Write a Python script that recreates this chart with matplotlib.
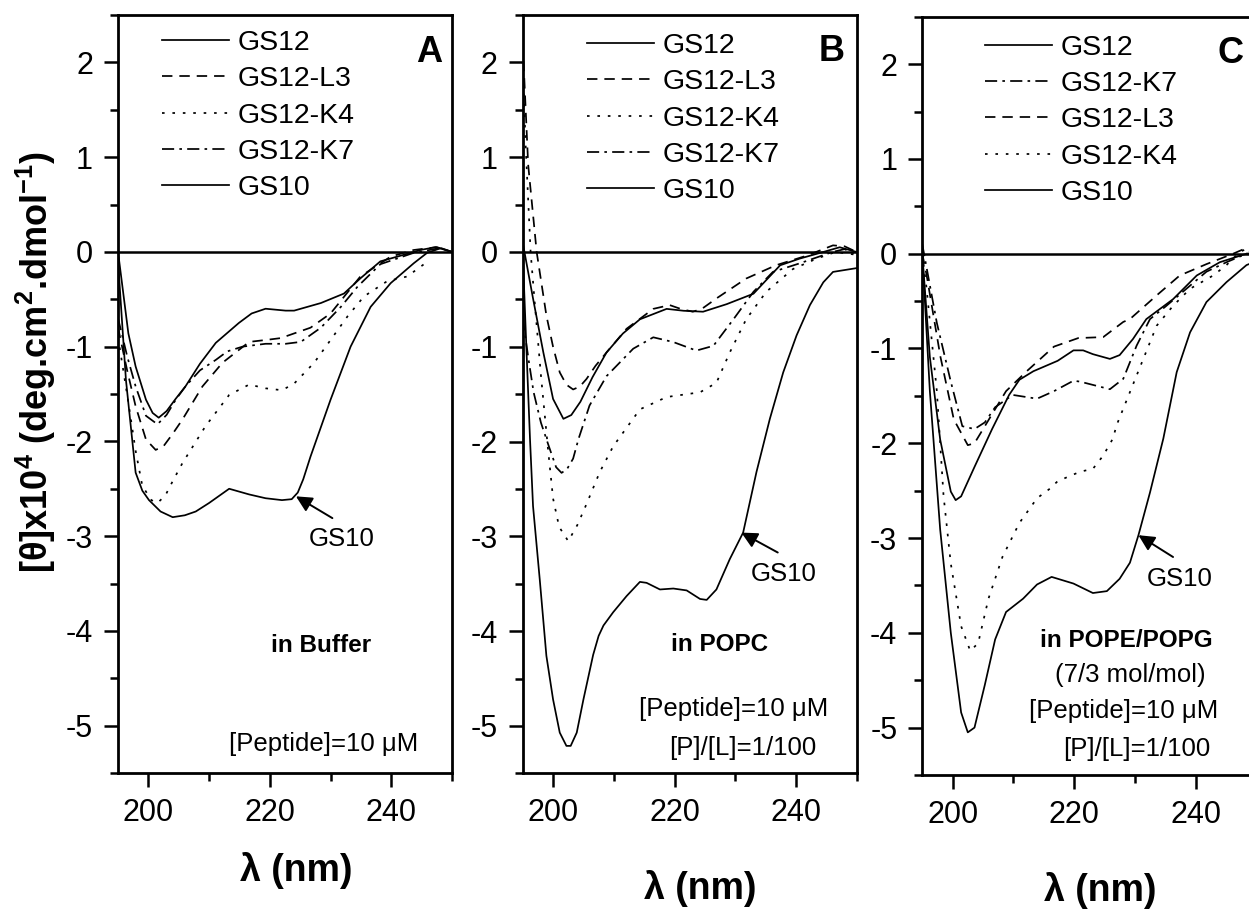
import matplotlib
matplotlib.use("Agg")
import matplotlib.pyplot as plt
from matplotlib.ticker import MultipleLocator

plt.rcParams['font.family'] = ['Liberation Sans', 'DejaVu Sans']
plt.rcParams['axes.unicode_minus'] = False
plt.rcParams['mathtext.fontset'] = 'custom'
plt.rcParams['mathtext.rm'] = 'Liberation Sans'
plt.rcParams['mathtext.bf'] = 'Liberation Sans:bold'
plt.rcParams['mathtext.default'] = 'bf'

# ---- panel A : in buffer ----
a_gs12_x = [195, 196.7, 197.9, 199.6, 200.7, 201.7, 203, 204.5, 206.1, 208.5, 211.1, 214.9, 217, 219.3, 222.6, 224, 228.4, 232.2, 234.9, 238.2, 241, 244.8, 247.3, 250]
a_gs12_y = [0.0, -0.86, -1.21, -1.56, -1.7, -1.75, -1.68, -1.55, -1.42, -1.18, -0.96, -0.75, -0.65, -0.60, -0.62, -0.62, -0.54, -0.44, -0.28, -0.10, -0.05, 0.02, 0.05, 0.0]
a_l3_x = [195, 196.5, 197.9, 199.6, 201.2, 202.5, 204, 205.6, 208.9, 212.2, 216.6, 219.3, 221.8, 226.7, 230, 234.9, 239.9, 243.7, 247.5, 250]
a_l3_y = [-0.8, -1.25, -1.63, -1.98, -2.09, -2.05, -1.92, -1.77, -1.42, -1.17, -0.95, -0.93, -0.91, -0.80, -0.65, -0.26, -0.05, 0.02, 0.05, 0.0]
a_k4_x = [195, 196.8, 197.9, 199, 200.5, 201.5, 202.8, 204, 205.6, 209.4, 213.3, 216.6, 219.3, 222, 224, 227.3, 230, 232.8, 235.5, 239.3, 242.6, 245.6]
a_k4_y = [-0.9, -1.63, -2.1, -2.47, -2.62, -2.65, -2.57, -2.42, -2.23, -1.84, -1.51, -1.40, -1.44, -1.46, -1.39, -1.17, -0.93, -0.68, -0.47, -0.31, -0.26, -0.12]
a_k7_x = [195, 196.5, 197.9, 199.6, 201.5, 203, 204.5, 206.1, 208.5, 211.1, 213, 215.5, 219.3, 222.6, 225.1, 228.4, 231.7, 234.4, 238.2, 243.7, 248, 250]
a_k7_y = [-0.7, -1.1, -1.42, -1.73, -1.82, -1.72, -1.56, -1.42, -1.25, -1.14, -1.05, -1.0, -0.97, -0.97, -0.95, -0.80, -0.58, -0.37, -0.13, -0.01, 0.04, 0.0]
a_gs10_x = [195, 196.3, 197.9, 199, 200.1, 202, 204, 206, 207.8, 210, 213.3, 216.6, 219.3, 222, 223.6, 224.6, 225.5, 226.7, 230, 233.3, 236.6, 239.9, 243.7, 245.9, 248.2, 250]
a_gs10_y = [-0.1, -1.35, -2.33, -2.52, -2.62, -2.74, -2.8, -2.78, -2.74, -2.65, -2.50, -2.56, -2.60, -2.62, -2.61, -2.54, -2.40, -2.16, -1.56, -1.0, -0.58, -0.33, -0.12, -0.01, 0.04, 0.0]

# ---- panel B : in POPC ----
b_gs12_x = [195, 196.7, 198.4, 200, 201.7, 203, 204.5, 206.5, 208.8, 211.5, 214.3, 218.7, 221.5, 224.7, 228.6, 233, 237.4, 240.6, 244.5, 247.2, 250]
b_gs12_y = [0.1, -0.49, -1.06, -1.55, -1.76, -1.72, -1.58, -1.32, -1.06, -0.86, -0.71, -0.60, -0.62, -0.63, -0.55, -0.44, -0.14, -0.07, 0.0, 0.05, 0.0]
b_l3_x = [195, 195.9, 197.3, 198.9, 200, 201.1, 202.2, 203.3, 204.4, 205.5, 207, 208.8, 212.1, 216.5, 219.2, 221, 223, 224.5, 226.9, 231.8, 236.7, 241.7, 246.1, 248, 250]
b_l3_y = [2.2, 0.92, 0.0, -0.67, -1.0, -1.27, -1.4, -1.45, -1.42, -1.34, -1.2, -1.06, -0.81, -0.60, -0.56, -0.6, -0.63, -0.6, -0.49, -0.28, -0.14, -0.04, 0.07, 0.06, 0.0]
b_k4_x = [195, 195.5, 196.3, 197, 198, 199.2, 200, 201, 202.5, 204, 205.5, 207.7, 209.9, 214.3, 218.7, 224.2, 226.9, 229.1, 231.8, 235.1, 239.5, 243.4, 246.5, 250]
b_k4_y = [2.0, 1.1, 0.0, -0.55, -1.3, -2.1, -2.6, -2.9, -3.05, -2.88, -2.66, -2.32, -2.05, -1.66, -1.53, -1.48, -1.38, -1.06, -0.71, -0.42, -0.18, -0.07, 0.0, -0.03]
b_k7_x = [195, 196, 196.8, 198, 199.2, 200.5, 201.4, 202.3, 203.3, 204.2, 206, 208.8, 213.2, 216.5, 219.8, 223.6, 226.4, 229.7, 233, 236.2, 240.6, 246, 248, 250]
b_k7_y = [-0.7, -1.15, -1.48, -1.8, -2.03, -2.27, -2.33, -2.29, -2.18, -1.97, -1.62, -1.31, -1.02, -0.90, -0.95, -1.04, -0.99, -0.71, -0.42, -0.21, -0.12, 0.0, 0.03, -0.03]
b_gs10_x = [195, 195.6, 196.2, 196.7, 197.8, 198.9, 200, 201.1, 202.2, 202.9, 203.9, 205, 206.6, 207.5, 208.3, 209.9, 212.1, 214.3, 215.4, 217.6, 219.8, 222, 224.2, 225.3, 226.9, 229.1, 231.3, 233.5, 235.7, 237.9, 240.1, 242.3, 244.5, 246.1, 250]
b_gs10_y = [0.0, -1.0, -1.97, -2.68, -3.45, -4.26, -4.72, -5.07, -5.21, -5.21, -5.07, -4.72, -4.25, -4.05, -3.94, -3.80, -3.63, -3.48, -3.49, -3.56, -3.55, -3.57, -3.66, -3.67, -3.56, -3.24, -2.96, -2.32, -1.76, -1.27, -0.88, -0.56, -0.32, -0.21, -0.17]

# ---- panel C : in POPE/POPG ----
c_gs12_x = [195, 196.25, 197.95, 199.7, 200.5, 201.4, 203.6, 206.5, 209.3, 211, 213.3, 217.3, 219.9, 221.5, 223.1, 225.9, 227.5, 229.7, 231.9, 236.3, 240.2, 244, 248.4, 250]
c_gs12_y = [0.0, -1.09, -1.96, -2.51, -2.6, -2.56, -2.25, -1.85, -1.49, -1.33, -1.24, -1.13, -1.02, -1.02, -1.06, -1.11, -1.07, -0.90, -0.69, -0.48, -0.23, -0.09, 0.0, 0.0]
c_k7_x = [195, 197.4, 199.7, 201.6, 203.6, 205.3, 207, 209.9, 213.9, 216.7, 219.9, 221, 225.9, 228.1, 230.3, 232.5, 235.2, 238.5, 241.8, 245.1, 248.4, 250]
c_k7_y = [0.1, -0.73, -1.35, -1.82, -1.85, -1.78, -1.62, -1.49, -1.53, -1.45, -1.34, -1.35, -1.43, -1.32, -0.97, -0.69, -0.55, -0.37, -0.19, -0.09, 0.0, 0.0]
c_l3_x = [195, 195.7, 198, 200.2, 202.5, 203.6, 205.3, 208.8, 212.2, 216.7, 220.7, 224.8, 228.1, 229.2, 233.6, 237.4, 241.8, 246.2, 248, 250]
c_l3_y = [0.0, -0.22, -1.09, -1.75, -2.02, -2.0, -1.82, -1.45, -1.24, -0.98, -0.89, -0.88, -0.72, -0.69, -0.44, -0.23, -0.11, 0.0, 0.05, 0.0]
c_k4_x = [195, 195.7, 197.4, 198.5, 199.7, 201.4, 202.9, 204.2, 205.9, 208.2, 211, 213.9, 216, 217.3, 221, 223.1, 224.8, 226.4, 227, 229.2, 231.4, 233.6, 236.3, 239.1, 242.9, 245.1, 247.3, 248.4, 250]
c_k4_y = [0.0, -0.36, -1.45, -2.55, -3.27, -3.93, -4.19, -4.11, -3.64, -3.2, -2.84, -2.58, -2.48, -2.4, -2.3, -2.27, -2.13, -1.95, -1.81, -1.46, -1.11, -0.76, -0.55, -0.37, -0.23, -0.12, 0.02, 0.05, 0.0]
c_gs10_x = [195, 196.25, 197.95, 199.7, 201.4, 202.5, 203.6, 205.3, 207, 208.8, 211.6, 213.9, 216.3, 219.9, 223.1, 225.4, 227.5, 229.2, 230.6, 232.5, 234.7, 236.9, 239.1, 241.8, 245.1, 248.4, 250]
c_gs10_y = [0.0, -1.45, -2.91, -4.0, -4.84, -5.05, -5.0, -4.55, -4.07, -3.78, -3.64, -3.49, -3.41, -3.48, -3.58, -3.56, -3.43, -3.26, -2.97, -2.52, -1.95, -1.25, -0.83, -0.51, -0.30, -0.12, -0.08]

SOLID = '-'
DASH = (0, (6, 4))
DOT = (0, (1.5, 4.5))
DASHDOT = (0, (7, 3, 1.5, 3))

fig = plt.figure(figsize=(12.49, 9.09), dpi=100)
axA = fig.add_axes([0.0945, 0.1496, 0.2674, 0.8339])
axB = fig.add_axes([0.4185, 0.1492, 0.2674, 0.8343])
axC = fig.add_axes([0.7384, 0.1474, 0.2674, 0.8342])


def setup(ax):
    ax.set_xlim(195, 250)
    ax.set_ylim(-5.5, 2.5)
    ax.xaxis.set_major_locator(MultipleLocator(20))
    ax.xaxis.set_minor_locator(MultipleLocator(10))
    ax.yaxis.set_major_locator(MultipleLocator(1))
    ax.yaxis.set_minor_locator(MultipleLocator(0.5))
    ax.set_xticks([200, 220, 240])
    ax.tick_params(which='both', direction='out', width=1.8, top=False, right=False,
                   labelsize=22, pad=8)
    ax.tick_params(which='major', length=10)
    ax.tick_params(which='minor', length=6)
    for s in ax.spines.values():
        s.set_linewidth(2.0)
    ax.axhline(0, color='k', lw=1.8, zorder=1)


for ax in (axA, axB, axC):
    setup(ax)

lw = 1.25
# A
axA.plot(a_gs12_x, a_gs12_y, color='k', lw=lw, ls=SOLID, label='GS12')
axA.plot(a_l3_x, a_l3_y, color='k', lw=lw, ls=DASH, label='GS12-L3')
axA.plot(a_k4_x, a_k4_y, color='k', lw=lw, ls=DOT, label='GS12-K4')
axA.plot(a_k7_x, a_k7_y, color='k', lw=lw, ls=DASHDOT, label='GS12-K7')
axA.plot(a_gs10_x, a_gs10_y, color='k', lw=lw, ls=SOLID, label='GS10')
# B
axB.plot(b_gs12_x, b_gs12_y, color='k', lw=lw, ls=SOLID, label='GS12')
axB.plot(b_l3_x, b_l3_y, color='k', lw=lw, ls=DASH, label='GS12-L3')
axB.plot(b_k4_x, b_k4_y, color='k', lw=lw, ls=DOT, label='GS12-K4')
axB.plot(b_k7_x, b_k7_y, color='k', lw=lw, ls=DASHDOT, label='GS12-K7')
axB.plot(b_gs10_x, b_gs10_y, color='k', lw=lw, ls=SOLID, label='GS10')
# C (legend order differs)
axC.plot(c_gs12_x, c_gs12_y, color='k', lw=lw, ls=SOLID, label='GS12')
axC.plot(c_k7_x, c_k7_y, color='k', lw=lw, ls=DASHDOT, label='GS12-K7')
axC.plot(c_l3_x, c_l3_y, color='k', lw=lw, ls=DASH, label='GS12-L3')
axC.plot(c_k4_x, c_k4_y, color='k', lw=lw, ls=DOT, label='GS12-K4')
axC.plot(c_gs10_x, c_gs10_y, color='k', lw=lw, ls=SOLID, label='GS10')

leg_kw = dict(frameon=False, fontsize=20.5, handlelength=2.35, handletextpad=0.3,
              labelspacing=0.36, borderpad=0, borderaxespad=0, loc='upper left')
axA.legend(bbox_to_anchor=(0.132, 0.980), **leg_kw)
axB.legend(bbox_to_anchor=(0.192, 0.976), **leg_kw)
axC.legend(bbox_to_anchor=(0.188, 0.976), **leg_kw)

# panel letters
axA.text(246.2, 2.1, 'A', fontsize=26, fontweight='bold', ha='center', va='center')
axB.text(245.9, 2.11, 'B', fontsize=26, fontweight='bold', ha='center', va='center')
axC.text(245.7, 2.11, 'C', fontsize=26, fontweight='bold', ha='center', va='center')

# GS10 arrows
arrow = dict(arrowstyle='-|>', color='k', lw=1.4, mutation_scale=24, shrinkA=0, shrinkB=0)
axA.annotate('', xy=(224.3, -2.58), xytext=(230.3, -2.81), arrowprops=arrow)
axA.text(231.9, -3.03, 'GS10', fontsize=18.5, ha='center', va='center')
axB.annotate('', xy=(231.0, -2.96), xytext=(237.0, -3.17), arrowprops=arrow)
axB.text(237.9, -3.40, 'GS10', fontsize=18.5, ha='center', va='center')
axC.annotate('', xy=(230.6, -2.97), xytext=(236.3, -3.20), arrowprops=arrow)
axC.text(237.4, -3.43, 'GS10', fontsize=18.5, ha='center', va='center')

# condition texts
fs = 18.5
fsb = 17.5
axA.text(228.4, -4.15, 'in Buffer', fontsize=fsb, fontweight='bold', ha='center', va='center')
axA.text(228.9, -5.19, '[Peptide]=10 \u03bcM', fontsize=fs, ha='center', va='center')
axB.text(227.5, -4.14, 'in POPC', fontsize=fsb, fontweight='bold', ha='center', va='center')
axB.text(229.7, -4.82, '[Peptide]=10 \u03bcM', fontsize=fs, ha='center', va='center')
axB.text(231.3, -5.23, '[P]/[L]=1/100', fontsize=fs, ha='center', va='center')
axC.text(228.6, -4.08, 'in POPE/POPG', fontsize=fsb, fontweight='bold', ha='center', va='center')
axC.text(229.2, -4.45, '(7/3 mol/mol)', fontsize=fs, ha='center', va='center')
axC.text(228.1, -4.82, '[Peptide]=10 \u03bcM', fontsize=fs, ha='center', va='center')
axC.text(230.3, -5.23, '[P]/[L]=1/100', fontsize=fs, ha='center', va='center')

# axis labels
for ax in (axA, axB, axC):
    ax.set_xlabel('\u03bb (nm)', fontsize=27, fontweight='bold')
axA.xaxis.set_label_coords(0.533, -0.104)
axB.xaxis.set_label_coords(0.533, -0.128)
axC.xaxis.set_label_coords(0.533, -0.128)
axA.set_ylabel('[\u03b8]x10$^{4}$ (deg.cm$^{2}$.dmol$^{-1}$)', fontsize=26, fontweight='bold')
axA.yaxis.set_label_coords(-0.18, 0.542)

fig.savefig('out.png', dpi=100)
